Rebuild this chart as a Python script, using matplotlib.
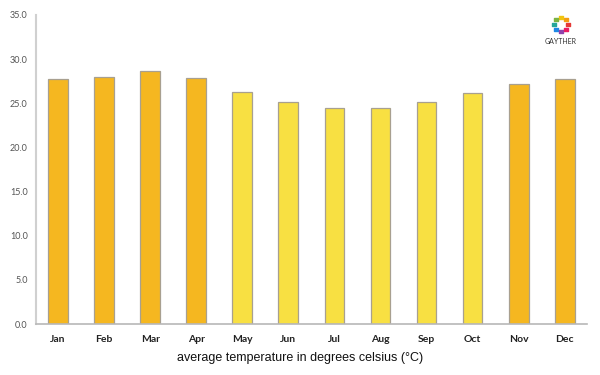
import numpy as np
import matplotlib.pyplot as plt

months = ["Jan", "Feb", "Mar", "Apr", "May", "Jun",
          "Jul", "Aug", "Sep", "Oct", "Nov", "Dec"]
temps = [27.7, 28.0, 28.7, 27.9, 26.3, 25.2, 24.5, 24.5, 25.2, 26.2, 27.2, 27.8]
warm = [True, True, True, True, False, False, False, False, False, False, True, True]
yticks = [0, 5, 10, 15, 20, 25, 30, 35]

colors = ["#F5B720" if w else "#F8E042" for w in warm]

fig = plt.figure(figsize=(6, 3.75), dpi=100)
ax = fig.add_axes([0.06, 0.136, 0.918, 0.824])

x = np.arange(len(months))
ax.bar(x, temps, width=0.43, color=colors, edgecolor="#A8A090", linewidth=0.9)

ax.set_xlim(-0.48, 11.48)
ax.set_ylim(0, 35)
ax.set_yticks(yticks)
ax.set_yticklabels(["%.1f" % v for v in yticks], fontsize=6.5, color="#555555",
                   family="Lato")
ax.set_xticks(x)
ax.set_xticklabels(months, fontsize=7.5, color="#222222", family="Lato",
                   fontweight="bold")
ax.tick_params(axis="both", length=0)
ax.tick_params(axis="x", pad=8)
ax.tick_params(axis="y", pad=6)

for s in ["top", "right"]:
    ax.spines[s].set_visible(False)
ax.spines["left"].set_color("#D0D0D0")
ax.spines["left"].set_linewidth(1.5)
ax.spines["bottom"].set_color("#B8B8B8")
ax.spines["bottom"].set_linewidth(1.2)

fig.text(0.5, 0.045, "average temperature in degrees celsius (\u00b0C)",
         ha="center", va="center", fontsize=9, family="Liberation Sans",
         color="#111111")

# logo
ang = np.linspace(0, 2 * np.pi, 9)[:-1]
logo_cols = ["#E53935", "#F39C12", "#F1C40F", "#7CB342",
             "#26A69A", "#1E88E5", "#8E44AD", "#E91E63"]
lax = fig.add_axes([0.905, 0.905, 0.06, 0.06])
lax.scatter(np.cos(ang), np.sin(ang), s=6, c=logo_cols, marker="s")
lax.set_xlim(-2.5, 2.5)
lax.set_ylim(-1.6, 1.6)
lax.axis("off")
fig.text(0.935, 0.888, "GAYTHER", ha="center", va="center", fontsize=5,
         color="#333333", family="Lato")

plt.savefig("out.png", dpi=100)
